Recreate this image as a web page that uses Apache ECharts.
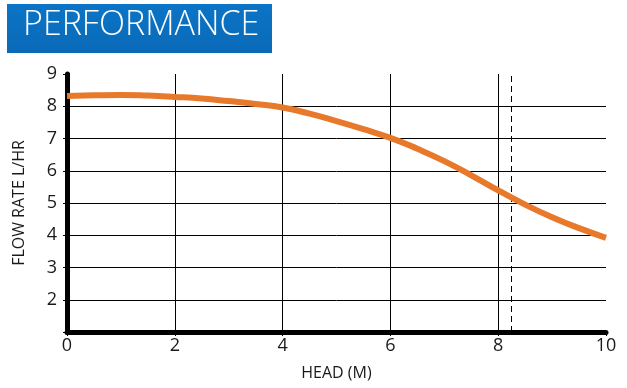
<!DOCTYPE html>
<html>
<head>
<meta charset="utf-8">
<script src="https://cdn.jsdelivr.net/npm/echarts@6/dist/echarts.min.js"></script>
<style>
html,body{margin:0;padding:0;background:#fff;}
#c{width:627px;height:388px;}
</style>
</head>
<body>
<div id="c"></div>
<script>
const headM = [0, 0.5, 1, 1.5, 2, 2.5, 3, 3.5, 4, 4.5, 5, 5.5, 6, 6.5, 7, 7.5, 8, 8.5, 9, 9.5, 10];
const flowRate = [8.32, 8.34, 8.35, 8.33, 8.29, 8.24, 8.16, 8.07, 7.96, 7.77, 7.54, 7.29, 7.02, 6.68, 6.30, 5.86, 5.39, 4.95, 4.56, 4.22, 3.92];
const dutyHead = 8.25;
const titleText = 'PERFORMANCE';
const xName = 'HEAD (M)';
const yName = 'FLOW RATE L/HR';

const chart = echarts.init(document.getElementById('c'), null, {renderer: 'canvas'});
const font = '"Open Sans", "DejaVu Sans", sans-serif';
chart.setOption({
  animation: false,
  backgroundColor: '#fff',
  graphic: [
    {type: 'rect', left: 7, top: 4, shape: {width: 265, height: 49},
     style: {fill: new echarts.graphic.LinearGradient(0, 0, 0, 1, [{offset: 0, color: '#0b74c6'}, {offset: 1, color: '#0a6ab8'}])}},
    {type: 'text', left: 23, top: 8,
     style: {text: titleText, fill: '#fff', font: '300 34px ' + font}}
  ],
  grid: {left: 67, right: 21, top: 74, bottom: 56, containLabel: false},
  xAxis: {
    type: 'value', min: 0, max: 10, interval: 2,
    name: xName, nameLocation: 'middle', nameGap: 33,
    nameTextStyle: {color: '#1a1a1a', fontSize: 16, fontFamily: font},
    axisLine: {show: true, onZero: false, lineStyle: {color: '#000', width: 5}},
    axisTick: {show: true, length: 4, lineStyle: {color: '#000', width: 1}},
    axisLabel: {color: '#1a1a1a', fontSize: 18, fontFamily: font, margin: 5},
    splitLine: {show: true, showMinLine: false, showMaxLine: false, lineStyle: {color: '#000', width: 1}}
  },
  yAxis: {
    type: 'value', min: 1, max: 9, interval: 1,
    name: yName, nameLocation: 'middle', nameGap: 40,
    nameTextStyle: {color: '#1a1a1a', fontSize: 16, fontFamily: font},
    axisLine: {show: true, onZero: false, lineStyle: {color: '#000', width: 5}},
    axisTick: {show: true, length: 4, lineStyle: {color: '#000', width: 1}},
    axisLabel: {color: '#1a1a1a', fontSize: 18, fontFamily: font, margin: 10,
      formatter: v => v === 1 ? '' : String(v)},
    splitLine: {show: true, showMinLine: false, showMaxLine: false, lineStyle: {color: '#000', width: 1}}
  },
  series: [{
    type: 'line',
    data: headM.map((h, i) => [h, flowRate[i]]),
    smooth: true,
    showSymbol: false,
    lineStyle: {color: '#e8792b', width: 6},
    z: 5,
    markLine: {
      silent: true, symbol: 'none', label: {show: false},
      lineStyle: {color: '#000', type: [6, 4], width: 1},
      data: [{xAxis: dutyHead}]
    }
  }]
});
</script>
</body>
</html>
